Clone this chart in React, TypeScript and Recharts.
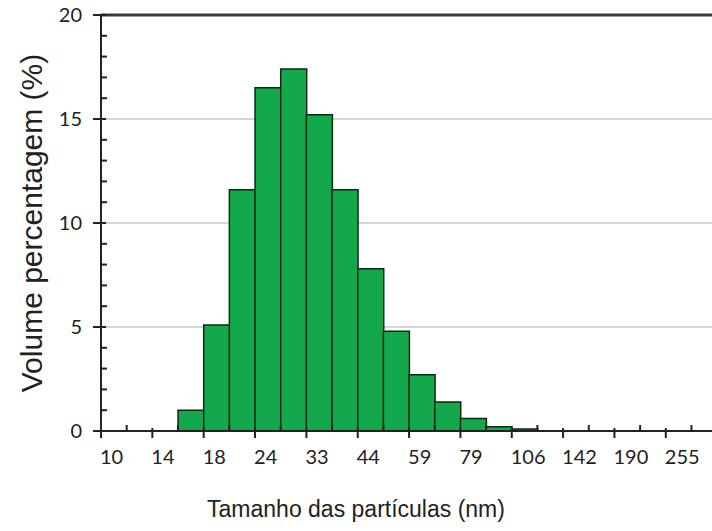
import { BarChart, Bar, XAxis, YAxis, CartesianGrid, ReferenceLine } from "recharts"

// particle size labels, one per pair of bins
const sizeLabels = ["10", "14", "18", "24", "33", "44", "59", "79", "106", "142", "190", "255"]

// volume percentage per bin
const volumePct = [
  0, 0, 0, 1.0, 5.1, 11.6, 16.5, 17.4, 15.2, 11.6, 7.8, 4.8,
  2.7, 1.4, 0.6, 0.2, 0.1, 0, 0, 0, 0, 0, 0, 0,
]

const binEdges = [0, 1, 2, 3, 4, 5, 6, 7, 8, 9, 10, 11, 12, 13, 14, 15, 16, 17, 18, 19, 20, 21, 22, 23]
const yTicks = [0, 1, 2, 3, 4, 5, 6, 7, 8, 9, 10, 11, 12, 13, 14, 15, 16, 17, 18, 19, 20]
const gridValues = [5, 10, 15]

const data = volumePct.map((v, i) => ({ bin: i + 0.5, volume: v }))

const tickFont = "Lato, 'Open Sans', sans-serif"
const titleFont = "'Liberation Sans', Arial, sans-serif"
const ink = "#222"

function XTick(props: any) {
  const { x, y, payload } = props
  const i = payload.value as number
  if (i % 2 === 1) {
    return <line x1={x} x2={x} y1={y} y2={y - 6} stroke={ink} strokeWidth={2} />
  }
  return (
    <g>
      <line x1={x} x2={x} y1={y - 3} y2={y + 7} stroke={ink} strokeWidth={2} />
      <text x={x - 1} y={y + 33} textAnchor="start" fontFamily={tickFont} fontSize={20} fill={ink}>
        {sizeLabels[i / 2]}
      </text>
    </g>
  )
}

function YTick(props: any) {
  const { x, y, payload } = props
  const v = payload.value as number
  if (v % 5 !== 0) {
    return <line x1={x} x2={x + 6} y1={y} y2={y} stroke={ink} strokeWidth={2} />
  }
  return (
    <g>
      <line x1={x - 8} x2={x + 5} y1={y} y2={y} stroke={ink} strokeWidth={2} />
      <text x={x - 19} y={y + 7} textAnchor="end" fontFamily={tickFont} fontSize={20} fill={ink}>
        {v}
      </text>
    </g>
  )
}

export default function App() {
  return (
    <div style={{ position: "absolute", left: 0, top: 0, background: "#fff" }}>
      <BarChart
        width={712}
        height={531}
        data={data}
        margin={{ top: 15, right: 0, bottom: 0, left: 0 }}
        barCategoryGap={0}
        barGap={0}
      >
        <CartesianGrid vertical={false} horizontalValues={gridValues} stroke="#d6d6d6" strokeWidth={2} />
        <ReferenceLine y={20} stroke="#3a3a3a" strokeWidth={3} />
        <XAxis
          dataKey="bin"
          type="number"
          domain={[0, 23.8]}
          ticks={binEdges}
          interval={0}
          height={100}
          tickSize={0}
          tickMargin={0}
          tick={<XTick />}
          axisLine={{ stroke: ink, strokeWidth: 2 }}
          label={{
            content: (p: any) => (
              <text
                x={p.viewBox.x + 255}
                y={p.viewBox.y + 86}
                textAnchor="middle"
                fontFamily={titleFont}
                fontSize={23}
                fill={ink}
              >
                Tamanho das partículas (nm)
              </text>
            ),
          }}
        />
        <YAxis
          type="number"
          domain={[0, 20]}
          ticks={yTicks}
          interval={0}
          width={101}
          tickSize={0}
          tickMargin={0}
          tick={<YTick />}
          axisLine={{ stroke: ink, strokeWidth: 2 }}
          label={{
            content: (p: any) => {
              const cx = 31
              const cy = p.viewBox.y + p.viewBox.height / 2
              return (
                <text
                  x={cx}
                  y={cy}
                  transform={`rotate(-90, ${cx}, ${cy})`}
                  textAnchor="middle"
                  dominantBaseline="central"
                  fontFamily={titleFont}
                  fontSize={30}
                  fill={ink}
                >
                  Volume percentagem (%)
                </text>
              )
            },
          }}
        />
        <Bar
          dataKey="volume"
          fill="#12a84b"
          stroke="#0b2a14"
          strokeWidth={1.5}
          isAnimationActive={false}
        />
      </BarChart>
    </div>
  )
}
